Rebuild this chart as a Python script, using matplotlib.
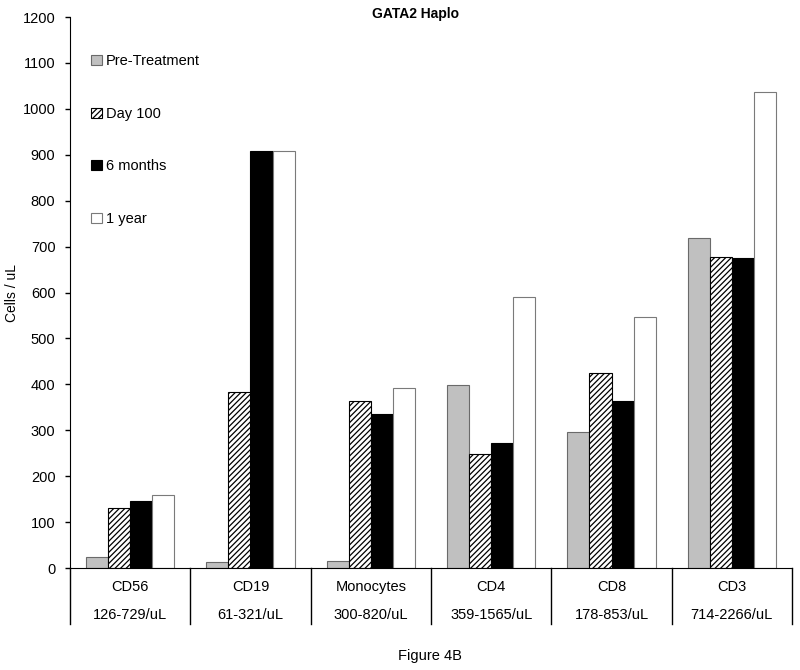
import matplotlib
matplotlib.use("Agg")
import matplotlib.pyplot as plt
import matplotlib.transforms as mtransforms
from matplotlib.patches import Patch
import numpy as np

plt.rcParams['font.family'] = ['Liberation Sans', 'DejaVu Sans']
plt.rcParams['hatch.linewidth'] = 0.9

categories = ['CD56', 'CD19', 'Monocytes', 'CD4', 'CD8', 'CD3']
ranges = ['126-729/uL', '61-321/uL', '300-820/uL', '359-1565/uL', '178-853/uL', '714-2266/uL']
series = ['Pre-Treatment', 'Day 100', '6 months', '1 year']
pre_treatment = [24, 13, 15, 398, 297, 719]
day_100 = [130, 383, 363, 248, 425, 677]
six_months = [146, 908, 336, 272, 364, 675]
one_year = [158, 908, 391, 590, 547, 1037]

values = [pre_treatment, day_100, six_months, one_year]
styles = [
    dict(color='#c0c0c0', edgecolor='#6a6a6a', hatch=None),
    dict(color='white', edgecolor='black', hatch='//////'),
    dict(color='black', edgecolor='black', hatch=None),
    dict(color='white', edgecolor='#7a7a7a', hatch=None),
]

fig = plt.figure(figsize=(8, 6.7), dpi=100)
ax = fig.add_axes([0.0875, 0.1522, 0.9025, 0.8224])

x = np.arange(len(categories))
w = 0.183
for i, (vals, st) in enumerate(zip(values, styles)):
    ax.bar(x + (i - 1.5) * w, vals, w, color=st['color'], edgecolor=st['edgecolor'],
           hatch=st['hatch'], linewidth=0.8, label=series[i])

ax.set_xlim(-0.5, len(categories) - 0.5)
ax.set_ylim(0, 1200)
ax.set_yticks(range(0, 1201, 100))
ax.tick_params(axis='y', direction='out', length=3.5, labelsize=10.5, width=1, pad=7)
ax.set_xticks([])
ax.spines['top'].set_visible(False)
ax.spines['right'].set_visible(False)
ax.set_ylabel('Cells / uL', fontsize=10)
ax.yaxis.set_label_coords(-0.071, 0.5)

# two-row category axis with separators
trans = mtransforms.blended_transform_factory(ax.transData, ax.transAxes)
for k in range(len(categories) + 1):
    ax.plot([k - 0.5, k - 0.5], [0, -0.102], color='black', lw=1,
            transform=trans, clip_on=False)
for k, (c, r) in enumerate(zip(categories, ranges)):
    ax.text(k, -0.034, c, ha='center', va='center', fontsize=10.5, transform=trans)
    ax.text(k, -0.085, r, ha='center', va='center', fontsize=10.5, transform=trans)

handles = [Patch(facecolor=st['color'], edgecolor=st['edgecolor'], hatch=st['hatch'],
                 linewidth=0.8, label=s) for st, s in zip(styles, series)]
ax.legend(handles=handles, loc='upper left', bbox_to_anchor=(0.107, 0.928),
          bbox_transform=fig.transFigure, frameon=False, fontsize=10.5,
          handlelength=0.7, handleheight=0.7, handletextpad=0.3, labelspacing=2.65,
          borderaxespad=0)

fig.text(0.52, 0.979, 'GATA2 Haplo', ha='center', va='center', fontsize=10,
         fontweight='bold')
fig.text(0.537, 0.021, 'Figure 4B', ha='center', va='center', fontsize=10.5)

fig.savefig('out.png', dpi=100)
